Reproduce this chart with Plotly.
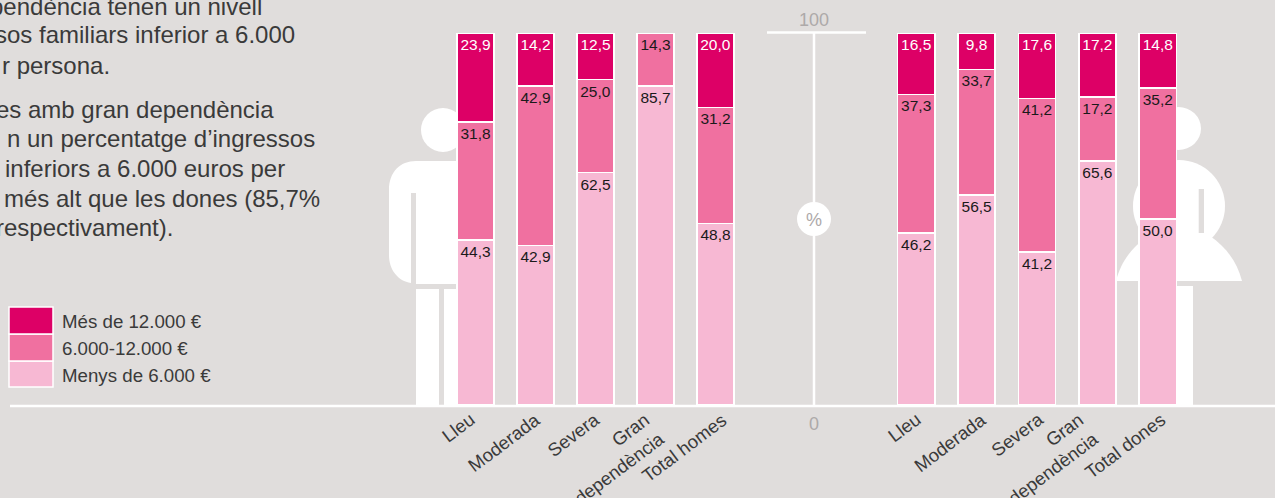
import plotly.graph_objects as go

W, H = 1275, 498
BG = "#E0DDDC"

groups_h = ["Lleu", "Moderada", "Severa", "Gran<br>dependència", "Total homes"]
groups_d = ["Lleu", "Moderada", "Severa", "Gran<br>dependència", "Total dones"]

low_h = [44.3, 42.9, 62.5, 85.7, 48.8]
mid_h = [31.8, 42.9, 25.0, 14.3, 31.2]
top_h = [23.9, 14.2, 12.5, None, 20.0]

low_d = [46.2, 56.5, 41.2, 65.6, 50.0]
mid_d = [37.3, 33.7, 41.2, 17.2, 35.2]
top_d = [16.5, 9.8, 17.6, 17.2, 14.8]

series_names = ["Menys de 6.000 €", "6.000-12.000 €", "Més de 12.000 €"]
series_colors = ["#F7B8D3", "#F070A0", "#DD0066"]
label_colors = ["#1a1a1a", "#1a1a1a", "#ffffff"]

paragraph = [
    "pendència tenen un nivell",
    "sos familiars inferior a 6.000",
    "r persona.",
    "es amb gran dependència",
    "n un percentatge d’ingressos",
    "inferiors a 6.000 euros per",
    "més alt que les dones (85,7%",
    "respectivament).",
]
para_right = [264, 297, 112, 276, 317, 287, 322, 175]
para_y = [7, 35, 65, 110, 139, 168, 198, 227]

shift_h = [6, 11, 11, 16, 18]
shift_d = [11, 16, 13, 8, 15]


def fx(x):
    return x / W


def fy(y):
    return 1 - y / H


def pth(cmds):
    out = []
    for c in cmds:
        if c == "Z":
            out.append("Z")
        else:
            op, *pts = c
            out.append(op + " ".join(f"{fx(pts[i]):.5f},{fy(pts[i+1]):.5f}" for i in range(0, len(pts), 2)))
    return " ".join(out)


fig = go.Figure()


def fmt(v):
    return "" if v is None else f"{v:.1f}".replace(".", ",")


for xa, cats, vals in (
    ("x", groups_h, (low_h, mid_h, top_h)),
    ("x2", groups_d, (low_d, mid_d, top_d)),
):
    for name, col, lab, v in zip(series_names, series_colors, label_colors, vals):
        fig.add_bar(
            x=list(range(5)), y=v, name=name, xaxis=xa, yaxis="y",
            marker=dict(color=col, line=dict(color="#ffffff", width=1.6)),
            text=[fmt(i) for i in v],
            textposition="inside", insidetextanchor="end", textangle=0,
            constraintext="none", cliponaxis=False,
            textfont=dict(family="Liberation Sans", size=15.5, color=lab),
            showlegend=False, hoverinfo="skip",
        )

white = dict(fillcolor="#ffffff", line=dict(width=0), xref="paper", yref="paper", layer="below")
shapes = []
# man
shapes.append(dict(type="circle", x0=fx(421), x1=fx(465), y0=fy(152), y1=fy(108), **white))
shapes.append(dict(type="path", path=pth([
    ("M", 416, 161), ("C", 400, 161, 389, 172, 389, 190), ("L", 389, 255),
    ("C", 389, 270, 398, 281, 411, 283), ("L", 411, 193), ("L", 416, 193), ("L", 416, 284),
    ("L", 460, 284), ("L", 460, 161), "Z"]), **white))
shapes.append(dict(type="rect", x0=fx(416), x1=fx(439), y0=fy(405), y1=fy(289), **white))
shapes.append(dict(type="rect", x0=fx(444), x1=fx(460), y0=fy(405), y1=fy(289), **white))
# woman
shapes.append(dict(type="circle", x0=fx(1156), x1=fx(1201), y0=fy(150), y1=fy(107), **white))
shapes.append(dict(type="circle", x0=fx(1133), x1=fx(1225), y0=fy(252), y1=fy(160), **white))
shapes.append(dict(type="path", path=pth([
    ("M", 1116, 281), ("C", 1121, 262, 1130, 250, 1145, 238), ("L", 1210, 236),
    ("C", 1227, 248, 1237, 262, 1242, 281), "Z"]), **white))
shapes.append(dict(type="rect", x0=fx(1198.7), x1=fx(1204), y0=fy(233), y1=fy(189),
                   fillcolor=BG, line=dict(width=0), xref="paper", yref="paper", layer="below"))
shapes.append(dict(type="rect", x0=fx(1165), x1=fx(1193), y0=fy(405), y1=fy(286), **white))
# baseline and central scale
line = dict(color="#ffffff", width=2.5)
shapes.append(dict(type="line", x0=fx(10), x1=1, y0=fy(406), y1=fy(406), xref="paper", yref="paper", line=line, layer="above"))
shapes.append(dict(type="line", x0=fx(814), x1=fx(814), y0=fy(405), y1=fy(33), xref="paper", yref="paper", line=line, layer="below"))
shapes.append(dict(type="line", x0=fx(767), x1=fx(866), y0=fy(32.5), y1=fy(32.5), xref="paper", yref="paper", line=line, layer="below"))
shapes.append(dict(type="circle", x0=fx(797), x1=fx(831), y0=fy(236), y1=fy(202), **white))

# legend swatches (top to bottom)
sw_y = [(361, 387), (334, 361), (307, 334)]
sw_text_y = [375, 348, 321]
for (a, b), col in zip(sw_y, series_colors):
    shapes.append(dict(type="rect", x0=fx(9), x1=fx(53), y0=fy(b), y1=fy(a), fillcolor=col,
                       line=dict(color="#ffffff", width=1.5), xref="paper", yref="paper", layer="below"))

ann = []
for t, r, y in zip(paragraph, para_right, para_y):
    ann.append(dict(text=t, x=fx(r), y=fy(y), xref="paper", yref="paper", xanchor="right", yanchor="middle",
                    showarrow=False, font=dict(family="Liberation Sans", size=24, color="#3a3a3a")))
for t, y in zip(series_names, sw_text_y):
    ann.append(dict(text=t, x=fx(60), y=fy(y), xref="paper", yref="paper", xanchor="left", yanchor="middle",
                    showarrow=False, font=dict(family="Liberation Sans", size=18.7, color="#3a3a3a")))
gray = "#ADA9A9"
for t, x, y, s in (("100", 814, 20, 18), ("0", 814, 424, 18), ("%", 814, 220, 18)):
    ann.append(dict(text=t, x=fx(x), y=fy(y), xref="paper", yref="paper", xanchor="center", yanchor="middle",
                    showarrow=False, font=dict(family="Liberation Sans", size=s, color=gray)))
# category labels, placed on each x axis
for xr, cats, shifts in (("x", groups_h, shift_h), ("x2", groups_d, shift_d)):
    for i, (c, s) in enumerate(zip(cats, shifts)):
        ann.append(dict(text=c, x=i, xref=xr, y=fy(406), yref="paper", xanchor="right", yanchor="top",
                        xshift=s, textangle=-37, align="right", showarrow=False,
                        font=dict(family="Liberation Sans", size=18.5, color="#3a3a3a")))

axis = dict(
    type="linear", tickmode="array", tickvals=list(range(5)), showticklabels=False, ticks="", showgrid=False,
    zeroline=False, showline=False, anchor="y", range=[-0.5, 4.5], automargin=False,
)
fig.update_layout(
    width=W, height=H, autosize=False, margin=dict(l=0, r=0, t=0, b=0, pad=0),
    paper_bgcolor=BG, plot_bgcolor="rgba(0,0,0,0)",
    barmode="stack", bargap=0.385, font=dict(family="Liberation Sans"),
    xaxis=dict(axis, domain=[fx(445.5), fx(745.5)]),
    xaxis2=dict(axis, domain=[fx(886), fx(1188)]),
    yaxis=dict(range=[0, 100], domain=[fy(405), fy(33)], visible=False, showgrid=False, zeroline=False, automargin=False),
    shapes=shapes, annotations=ann,
)
fig.write_html("out.html", post_script="document.body.style.margin='0';document.documentElement.style.overflow='hidden';",
               config=dict(displayModeBar=False))
